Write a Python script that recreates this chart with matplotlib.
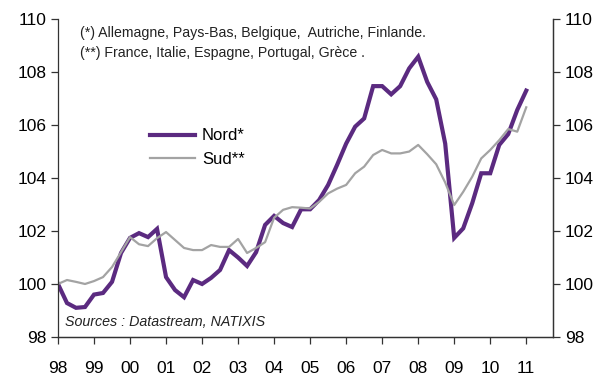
import numpy as np
import matplotlib
matplotlib.use("Agg")
import matplotlib.pyplot as plt

plt.rcParams["font.family"] = ["Liberation Sans", "DejaVu Sans"]

# quarterly index, 1998Q1 .. 2011Q1
nord = [100.0, 99.28, 99.1, 99.13, 99.6, 99.66, 100.08, 101.17, 101.74, 101.92,
        101.77, 102.08, 100.26, 99.77, 99.5, 100.15, 100.0, 100.23, 100.53, 101.28,
        101.0, 100.68, 101.2, 102.23, 102.57, 102.3, 102.15, 102.82, 102.82, 103.17,
        103.74, 104.5, 105.3, 105.94, 106.25, 107.47, 107.47, 107.16, 107.47, 108.14,
        108.58, 107.63, 106.97, 105.3, 101.74, 102.1, 103.05, 104.18, 104.18, 105.25,
        105.66, 106.57, 107.3]
sud = [100.0, 100.15, 100.08, 100.0, 100.11, 100.26, 100.64, 101.2, 101.77, 101.5,
       101.43, 101.73, 101.96, 101.66, 101.36, 101.28, 101.28, 101.47, 101.4, 101.4,
       101.7, 101.17, 101.36, 101.58, 102.5, 102.8, 102.9, 102.88, 102.85, 103.1,
       103.42, 103.6, 103.74, 104.18, 104.43, 104.87, 105.06, 104.93, 104.93, 105.0,
       105.25, 104.9, 104.52, 103.83, 102.98, 103.48, 104.05, 104.74, 105.06, 105.43,
       105.85, 105.75, 106.67]
t = 1998 + np.arange(len(nord)) / 4.0

year_ticks = list(range(1998, 2012))
year_labels = [str(y)[-2:] for y in year_ticks]
y_ticks = [98, 100, 102, 104, 106, 108, 110]

fig = plt.figure(figsize=(6.04, 3.90), dpi=100)
ax = fig.add_axes([0.096, 0.136, 0.82, 0.815])

ax.plot(t, nord, color="#5b2a80", lw=3.0, label="Nord*", solid_joinstyle="miter")
ax.plot(t, sud, color="#a3a3a3", lw=1.6, label="Sud**")

ax.set_xlim(1998, 2011.75)
ax.set_ylim(98, 110)
ax.set_xticks(year_ticks)
ax.set_xticklabels(year_labels)
ax.set_yticks(y_ticks)

ax2 = ax.twinx()
ax2.set_ylim(98, 110)
ax2.set_yticks(y_ticks)

for a in (ax, ax2):
    for s in a.spines.values():
        s.set_color("#333333")
        s.set_linewidth(0.9)
    a.spines["top"].set_visible(False)
    a.tick_params(axis="both", direction="out", length=5, width=0.9,
                  color="#333333", labelsize=12.5, labelcolor="black")
ax.tick_params(axis="x", pad=12)
ax2.spines["left"].set_visible(False)

leg = ax.legend(loc="upper left", bbox_to_anchor=(0.235, 0.692),
                bbox_transform=fig.transFigure, frameon=False, borderpad=0,
                fontsize=12, handlelength=2.7, handletextpad=0.4, labelspacing=0.5)

fig.text(0.132, 0.915, "(*) Allemagne, Pays-Bas, Belgique,  Autriche, Finlande.",
         fontsize=10.2, va="center", color="#222222")
fig.text(0.132, 0.864, "(**) France, Italie, Espagne, Portugal, Grèce .",
         fontsize=10.2, va="center", color="#222222")
ax.text(0.015, 0.035, "Sources : Datastream, NATIXIS", transform=ax.transAxes,
        fontsize=10.3, style="italic", color="#222222")

fig.savefig("out.png", dpi=100)
